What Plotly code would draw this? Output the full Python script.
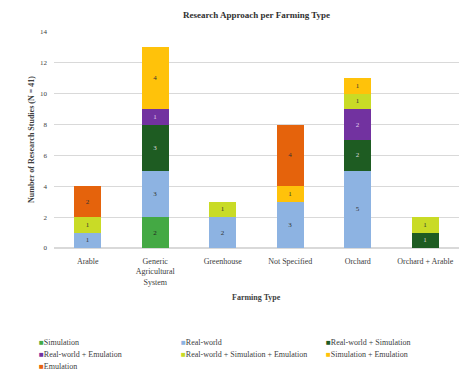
import plotly.graph_objects as go

# Farming types (x categories) and tick text
farming_types = ["Arable", "Generic Agricultural System", "Greenhouse",
                 "Not Specified", "Orchard", "Orchard + Arable"]
tick_text = ["Arable", "Generic<br>Agricultural<br>System", "Greenhouse",
             "Not Specified", "Orchard", "Orchard + Arable"]

# Research approaches, stacked bottom to top
approaches = ["Simulation", "Real-world", "Real-world + Simulation",
              "Real-world + Emulation", "Real-world + Simulation + Emulation",
              "Simulation + Emulation", "Emulation"]
colors = ["#44A944", "#8DB3E2", "#1E5C22", "#7232A0",
          "#C9DB26", "#FFC20A", "#E5630C"]
label_colors = ["#222222", "#333333", "#D8D8D8", "#E0D0EE",
                "#333333", "#333333", "#333333"]

# Number of studies per approach, one value per farming type
simulation = [0, 2, 0, 0, 0, 0]
real_world = [1, 3, 2, 3, 5, 0]
rw_simulation = [0, 3, 0, 0, 2, 1]
rw_emulation = [0, 1, 0, 0, 2, 0]
rw_sim_emulation = [1, 0, 1, 0, 1, 1]
sim_emulation = [0, 4, 0, 1, 1, 0]
emulation = [2, 0, 0, 4, 0, 0]
series = [simulation, real_world, rw_simulation, rw_emulation,
          rw_sim_emulation, sim_emulation, emulation]

y_ticks = list(range(0, 15, 2))

W, H = 459, 372
ML, MR, MT, MB = 54, 0, 32, 124
PW, PH = W - ML - MR, H - MT - MB
FONT = "Liberation Serif, Times New Roman, serif"

fig = go.Figure()
for name, vals, col, lc in zip(approaches, series, colors, label_colors):
    fig.add_trace(go.Bar(
        name=name, x=farming_types, y=[v if v else None for v in vals],
        marker=dict(color=col, line=dict(width=0)),
        text=[str(v) if v else "" for v in vals],
        textposition="inside", insidetextanchor="middle", textangle=0,
        constraintext="none",
        textfont=dict(size=7, color=lc, family=FONT),
        showlegend=False, hoverinfo="skip",
    ))


def px_x(px):
    return (px - ML) / PW


def px_y(py):
    return (H - MB - py) / PH


# Legend drawn as text entries: three columns, wrapping rows
legend_cols = [37, 179, 324]
legend_rows = [342, 354, 366]
annotations = []
for i, (name, col) in enumerate(zip(approaches, colors)):
    r, c = divmod(i, 3)
    annotations.append(dict(
        xref="paper", yref="paper", x=px_x(legend_cols[c]), y=px_y(legend_rows[r]),
        xanchor="left", yanchor="middle", showarrow=False,
        text=f"<span style='color:{col};font-size:8px'>■</span>{name}",
        font=dict(size=8, color="#404040", family=FONT),
    ))

# Axis titles
annotations.append(dict(
    xref="paper", yref="paper", x=px_x(31), y=px_y(140),
    xanchor="center", yanchor="middle", showarrow=False, textangle=-90,
    text="<b>Number of Research Studies (N = 41)</b>",
    font=dict(size=8, color="#404040", family=FONT),
))
annotations.append(dict(
    xref="paper", yref="paper", x=0.5, y=px_y(297),
    xanchor="center", yanchor="middle", showarrow=False,
    text="<b>Farming Type</b>",
    font=dict(size=8, color="#404040", family=FONT),
))

fig.update_layout(
    width=W, height=H,
    margin=dict(l=ML, r=MR, t=MT, b=MB, autoexpand=False),
    paper_bgcolor="white", plot_bgcolor="white",
    barmode="stack", bargap=0.6,
    title=dict(text="<b>Research Approach per Farming Type</b>",
               x=(ML + PW / 2) / W, xanchor="center",
               y=1 - 15 / H, yanchor="middle",
               font=dict(size=9, color="#303030", family=FONT)),
    font=dict(family=FONT, color="#404040", size=7),
    annotations=annotations,
    showlegend=False,
)
fig.update_xaxes(
    tickvals=farming_types, ticktext=tick_text, showgrid=False,
    showline=False, ticks="", tickfont=dict(size=8, color="#404040"),
    ticklabelstandoff=7, automargin=False,
)
fig.update_yaxes(
    range=[0, 14], tickvals=y_ticks, showgrid=True, gridcolor="#D9D9D9",
    gridwidth=1, zeroline=True, zerolinecolor="#D9D9D9", showline=False,
    ticks="", tickfont=dict(size=7, color="#404040"), ticklabelstandoff=6,
    automargin=False,
)

fig.write_html("out.html")
